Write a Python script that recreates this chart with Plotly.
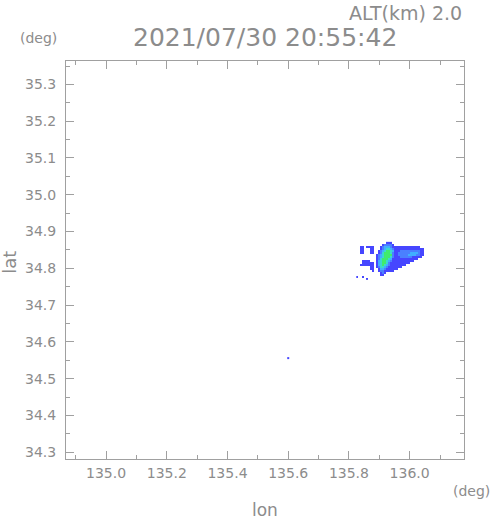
import numpy as np
import plotly.graph_objects as go

# ---- data ----
lon_range = [134.868, 136.179]
lat_range = [34.2818, 35.3636]
lon_ticks = [135.0, 135.2, 135.4, 135.6, 135.8, 136.0]
lat_ticks = [34.3, 34.4, 34.5, 34.6, 34.7, 34.8, 34.9, 35.0, 35.1, 35.2, 35.3]

title_text = "2021/07/30 20:55:42"
alt_text = "ALT(km) 2.0"

# echo grid (lon/lat of the first cell centre and step)
grid_lon0 = 135.8275
grid_dlon = 0.0066
grid_lat0 = 34.8693
grid_dlat = 0.00544

# echo intensity classes (0 = no echo, 1..5 = colour class), north row first
echo_rows = [
    "00000000000000011100000000000000000",
    "00000000000001222210000000000000000",
    "00110111100012333211111111111111000",
    "00110001100012344321111111111111110",
    "00110001100123455431112222222222110",
    "00110001100124555421122222233332110",
    "00000000001234555521122222333322110",
    "00000000001234555421112222221111100",
    "00000000001245554311111111111110000",
    "00011110001345543211111111111000000",
    "00011111101345542111111111100000000",
    "00111111101345432111111110000000000",
    "00000001101244321111111000000000000",
    "00000001100133211111100000000000000",
    "00000000100122111110000000000000000",
    "00000000000012100000000000000000000",
    "00000000000011000000000000000000000",
    "10010000000000000000000000000000000",
    "00000100000000000000000000000000000",
]
level_colors = ["#4646ff", "#4a80ff", "#40b0ff", "#3cd8d0", "#40ec6c"]

stray_lon = [135.600]
stray_lat = [34.556]

# ---- build figure ----
ncol = len(echo_rows[0])
nrow = len(echo_rows)
lons = grid_lon0 + grid_dlon * np.arange(ncol)
lats = grid_lat0 - grid_dlat * np.arange(nrow)
z = [[(int(ch) if ch != "0" else None) for ch in row] for row in echo_rows]

nlev = len(level_colors)
cscale = []
for i, c in enumerate(level_colors):
    cscale.append([i / nlev, c])
    cscale.append([(i + 1) / nlev, c])

TXT = "#8c8c8c"
LINE = "#a0a0a0"
FONT = "DejaVu Sans"

fig = go.Figure()
fig.add_trace(go.Heatmap(
    x=lons, y=lats, z=z, colorscale=cscale, zmin=0.5, zmax=nlev + 0.5,
    showscale=False, zsmooth=False, hoverinfo="skip"))
fig.add_trace(go.Scatter(
    x=stray_lon, y=stray_lat, mode="markers",
    marker=dict(symbol="square", size=2, color=level_colors[0], line=dict(width=0)),
    hoverinfo="skip", showlegend=False))

axis_common = dict(
    showline=True, linecolor=LINE, linewidth=1, mirror="allticks",
    ticks="inside", ticklen=8, tickcolor=LINE, tickwidth=1,
    showgrid=False, zeroline=False,
    tickfont=dict(family=FONT, size=14, color=TXT),
)
fig.update_xaxes(range=lon_range, tickvals=lon_ticks,
                 ticktext=[f"{v:.1f}" for v in lon_ticks],
                 ticklabelstandoff=1,
                 minor=dict(ticks="inside", ticklen=4, tickcolor=LINE, dtick=0.1,
                            tick0=135.0, showgrid=False),
                 **axis_common)
fig.update_yaxes(range=lat_range, tickvals=lat_ticks,
                 ticktext=[f"{v:.1f}" for v in lat_ticks],
                 ticklabelstandoff=6,
                 minor=dict(ticks="inside", ticklen=4, tickcolor=LINE, dtick=0.05,
                            tick0=34.3, showgrid=False),
                 **axis_common)

ann = [
    dict(text=title_text, x=0.5, y=1.060, size=25),
    dict(text=alt_text, x=1.0, y=1.1206, size=19, xanchor="right"),
    dict(text="(deg)", x=-0.070, y=1.058, size=14),
    dict(text="(deg)", x=1.018, y=-0.080, size=14),
    dict(text="lon", x=0.5, y=-0.128, size=17),
    dict(text="lat", x=-0.141, y=0.495, size=18, textangle=-90),
]
for a in ann:
    fig.add_annotation(
        text=a["text"], x=a["x"], y=a["y"], xref="paper", yref="paper",
        xanchor=a.get("xanchor", "center"), yanchor="middle",
        textangle=a.get("textangle", 0), showarrow=False,
        font=dict(family=FONT, size=a["size"], color=TXT))

fig.update_layout(
    width=491, height=521,
    margin=dict(l=66, r=27, t=61, b=62),
    paper_bgcolor="white", plot_bgcolor="white",
    showlegend=False,
)
fig.write_html("out.html", config=dict(displayModeBar=False),
               post_script="document.body.style.margin='0';document.body.style.padding='0';")
